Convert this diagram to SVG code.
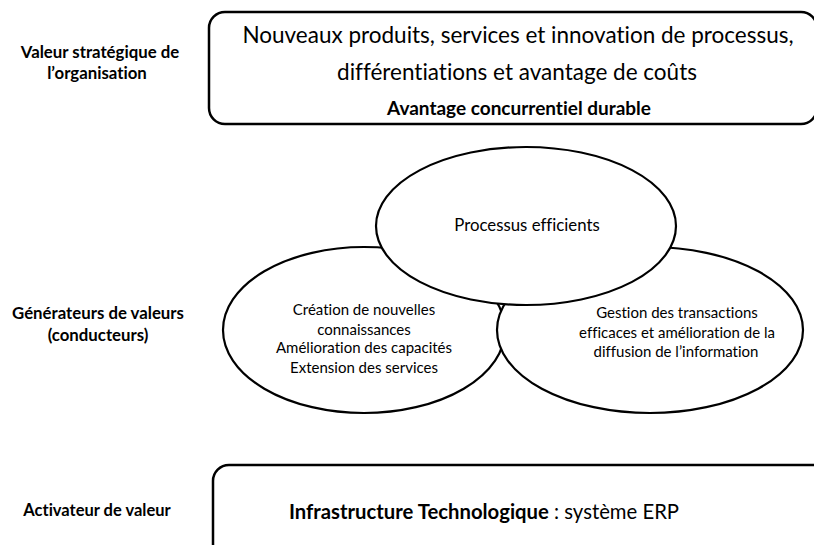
<svg xmlns="http://www.w3.org/2000/svg" width="814" height="545" viewBox="0 0 814 545">
<style>
text{font-family:Lato,"Open Sans","Liberation Sans",sans-serif;fill:#000;text-anchor:middle;font-variant-ligatures:none}
.lbl{font-weight:bold;font-size:16.8px}
.box{fill:#fff;stroke:#000;stroke-width:2.5}
.ell{fill:#fff;stroke:#000;stroke-width:2.2}
.big{font-size:22.5px}
.mid{font-size:15px}
</style>
<rect width="814" height="545" fill="#fff"/>
<g id="label-valeur">
<text class="lbl" x="100" y="58">Valeur stratégique de</text>
<text class="lbl" x="97" y="79">l’organisation</text>
</g>
<g id="label-generateurs">
<text class="lbl" x="98" y="319">Générateurs de valeurs</text>
<text class="lbl" x="98" y="341">(conducteurs)</text>
</g>
<g id="label-activateur">
<text class="lbl" x="97" y="516" style="font-size:16.5px">Activateur de valeur</text>
</g>
<g id="box-top">
<rect class="box" x="209" y="12" width="608" height="112" rx="16"/>
<text class="big" x="518" y="43">Nouveaux produits, services et innovation de processus,</text>
<text class="big" x="517" y="80">différentiations et avantage de coûts</text>
<text x="519" y="115" style="font-size:19px;font-weight:bold">Avantage concurrentiel durable</text>
</g>
<g id="ellipse-left">
<ellipse class="ell" cx="364" cy="330" rx="141" ry="83"/>
<text class="mid" x="364" y="315">Création de nouvelles</text>
<text class="mid" x="364" y="335">connaissances</text>
<text class="mid" x="364" y="353">Amélioration des capacités</text>
<text class="mid" x="364" y="373">Extension des services</text>
</g>
<g id="ellipse-right">
<ellipse class="ell" cx="650" cy="330" rx="153" ry="83"/>
<text class="mid" x="677" y="318">Gestion des transactions</text>
<text class="mid" x="677" y="338">efficaces et amélioration de la</text>
<text class="mid" x="676" y="357">diffusion de  l’information</text>
</g>
<g id="ellipse-top">
<ellipse class="ell" cx="526" cy="226" rx="150" ry="79"/>
<text x="527" y="231" style="font-size:16.8px">Processus efficients</text>
</g>
<g id="box-bottom">
<rect class="box" x="213" y="465" width="620" height="95" rx="16"/>
<text x="484" y="519" style="font-size:20.3px"><tspan font-weight="bold">Infrastructure Technologique</tspan> : système ERP</text>
</g>
<g id="connectors"/>
</svg>
